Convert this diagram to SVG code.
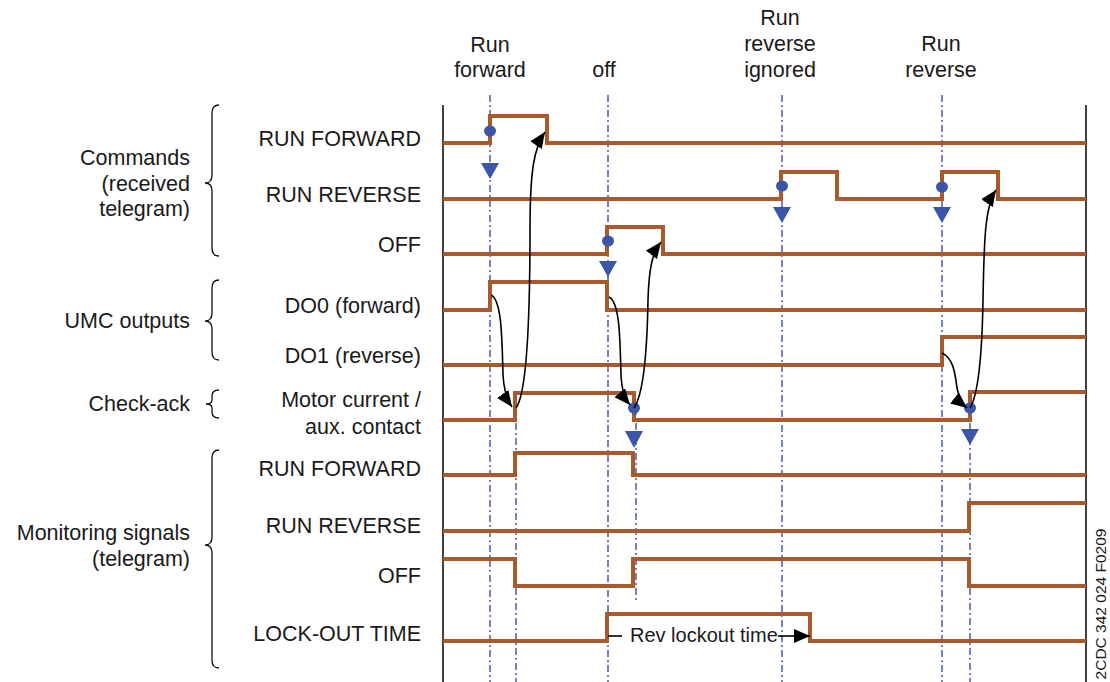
<svg xmlns="http://www.w3.org/2000/svg" width="1110" height="682" viewBox="0 0 1110 682">
<style>
text{font-family:"Liberation Sans",Arial,sans-serif;font-size:21.5px;fill:#1a1a1a}
.r{text-anchor:end}
.m{text-anchor:middle}
.wave{fill:none;stroke:#a85a2c;stroke-width:4;stroke-linejoin:miter}
.dd{fill:none;stroke:#3a4ea8;stroke-width:1.4;stroke-dasharray:7 3 2 3}
.frame{stroke:#111;stroke-width:1.6}
.brace{fill:none;stroke:#111;stroke-width:1.3}
.arr{fill:none;stroke:#000;stroke-width:1.6}
.dot{fill:#3b55a8}
.tri{fill:#3b55a8}
</style>
<defs>
<marker id="ah" markerUnits="userSpaceOnUse" markerWidth="18" markerHeight="14" refX="16" refY="7" orient="auto">
<path d="M0,0 L16,7 L0,14 z" fill="#000"/>
</marker>
</defs>

<g id="frame">
<line class="frame" x1="443" y1="105" x2="443" y2="682"/>
<line class="frame" x1="1086" y1="105" x2="1086" y2="682"/>
</g>

<g id="event-lines">
<line class="dd" x1="490" y1="95" x2="490" y2="682"/>
<line class="dd" x1="516" y1="408" x2="516" y2="682"/>
<line class="dd" x1="608" y1="95" x2="608" y2="682"/>
<line class="dd" x1="636" y1="408" x2="636" y2="603"/>
<line class="dd" x1="782" y1="95" x2="782" y2="682"/>
<line class="dd" x1="942" y1="95" x2="942" y2="682"/>
<line class="dd" x1="970" y1="408" x2="970" y2="682"/>
</g>

<g id="event-labels">
<text class="m" x="490" y="52">Run</text>
<text class="m" x="490" y="77">forward</text>
<text class="m" x="604" y="77">off</text>
<text class="m" x="780" y="25">Run</text>
<text class="m" x="780" y="51">reverse</text>
<text class="m" x="780" y="77">ignored</text>
<text class="m" x="941" y="51">Run</text>
<text class="m" x="941" y="77">reverse</text>
</g>

<g id="group-commands">
<text class="r" x="190" y="165">Commands</text>
<text class="r" x="190" y="190.5">(received</text>
<text class="r" x="190" y="216">telegram)</text>
<path class="brace" d="M219,105 Q212,105 212,113 L212,175 Q212,183 205,183 Q212,183 212,191 L212,248 Q212,256 219,256"/>
</g>
<g id="group-umc">
<text class="r" x="190" y="328">UMC outputs</text>
<path class="brace" d="M219,280 Q212,280 212,288 L212,313 Q212,321 205,321 Q212,321 212,329 L212,352 Q212,360 219,360"/>
</g>
<g id="group-check">
<text class="r" x="190" y="411">Check-ack</text>
<path class="brace" d="M219,390 Q212,390 212,396 L212,400 Q212,404 206,404 Q212,404 212,408 L212,412 Q212,418 219,418"/>
</g>
<g id="group-monitoring">
<text class="r" x="190" y="540">Monitoring signals</text>
<text class="r" x="190" y="566">(telegram)</text>
<path class="brace" d="M219,450 Q212,450 212,458 L212,537 Q212,545 205,545 Q212,545 212,553 L212,660 Q212,668 219,668"/>
</g>

<g id="sig-cmd-fwd">
<text class="r" x="421" y="145.5">RUN FORWARD</text>
<path class="wave" d="M443,143 H490 V116 H547 V143 H1086"/>
</g>
<g id="sig-cmd-rev">
<text class="r" x="421" y="201.5">RUN REVERSE</text>
<path class="wave" d="M443,199 H781 V172 H837 V199 H942 V172 H998 V199 H1086"/>
</g>
<g id="sig-cmd-off">
<text class="r" x="421" y="251.5">OFF</text>
<path class="wave" d="M443,254 H607 V227 H663 V254 H1086"/>
</g>
<g id="sig-do0">
<text class="r" x="421" y="313">DO0 (forward)</text>
<path class="wave" d="M443,310 H490 V282 H607 V310 H1086"/>
</g>
<g id="sig-do1">
<text class="r" x="421" y="363">DO1 (reverse)</text>
<path class="wave" d="M443,365 H942 V337 H1086"/>
</g>
<g id="sig-motor">
<text class="r" x="421" y="407">Motor current /</text>
<text class="r" x="421" y="434">aux. contact</text>
<path class="wave" d="M443,420 H515 V393 H634 V420 H970 V392 H1086"/>
</g>
<g id="sig-mon-fwd">
<text class="r" x="421" y="475.5">RUN FORWARD</text>
<path class="wave" d="M443,475 H515 V453 H633 V475 H1086"/>
</g>
<g id="sig-mon-rev">
<text class="r" x="421" y="532.5">RUN REVERSE</text>
<path class="wave" d="M443,531 H969 V503 H1086"/>
</g>
<g id="sig-mon-off">
<text class="r" x="421" y="582.5">OFF</text>
<path class="wave" d="M443,559 H515 V586 H633 V559 H969 V586 H1086"/>
</g>
<g id="sig-lockout">
<text class="r" x="421" y="640.5">LOCK-OUT TIME</text>
<path class="wave" d="M443,641 H607 V614 H810 V641 H1086"/>
</g>

<g id="markers">
<ellipse class="dot" cx="490" cy="131" rx="6" ry="5.5"/>
<ellipse class="dot" cx="608" cy="241" rx="6" ry="5.5"/>
<ellipse class="dot" cx="782" cy="186" rx="6" ry="5.5"/>
<ellipse class="dot" cx="942" cy="187" rx="6" ry="5.5"/>
<ellipse class="dot" cx="634" cy="408" rx="6" ry="5.5"/>
<ellipse class="dot" cx="970" cy="408" rx="6" ry="5.5"/>
<polygon class="tri" points="481,163 499,163 490,179"/>
<polygon class="tri" points="599,261 617,261 608,277"/>
<polygon class="tri" points="773,207 791,207 782,223"/>
<polygon class="tri" points="933,207 951,207 942,223"/>
<polygon class="tri" points="625,431 643,431 634,448"/>
<polygon class="tri" points="961,429 979,429 970,445"/>
</g>

<g id="connectors">
<path class="arr" marker-end="url(#ah)" d="M491,295 C502,300 502,340 503,375 C504,392 507,400 512,407"/>
<path class="arr" marker-end="url(#ah)" d="M516,408 C526,395 530,330 530,230 C530,170 534,148 545,132"/>
<path class="arr" marker-end="url(#ah)" d="M609,297 C620,302 620,340 621,375 C622,392 625,399 630,405"/>
<path class="arr" marker-end="url(#ah)" d="M634,408 C643,395 647,360 648,300 C649,268 652,254 661,242"/>
<path class="arr" marker-end="url(#ah)" d="M942,353 C953,358 955,372 957,388 C959,398 962,404 967,408"/>
<path class="arr" marker-end="url(#ah)" d="M970,408 C978,395 982,360 983,300 C984,240 985,206 996,190"/>
<line class="arr" x1="608" y1="636" x2="622" y2="636"/>
<text x="630" y="642" style="font-size:20px">Rev lockout time</text>
<line class="arr" marker-end="url(#ah)" x1="778" y1="636" x2="810" y2="636"/>
</g>

<text x="0" y="0" transform="translate(1106,604) rotate(-90)" class="m" style="font-size:15.5px">2CDC 342 024 F0209</text>
</svg>
